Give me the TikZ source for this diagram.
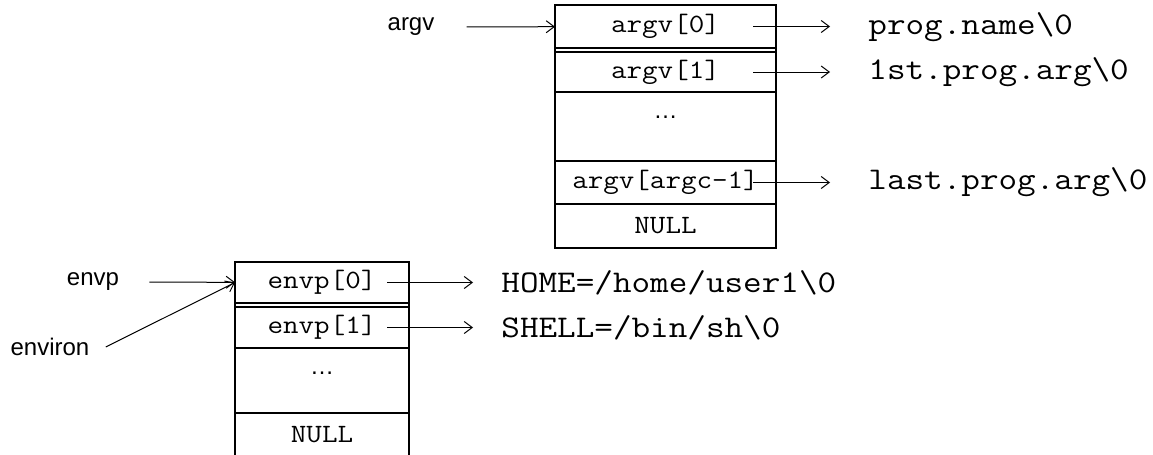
\documentclass[tikz,border=0pt]{standalone}
\usepackage{fontspec}
\setsansfont{Liberation Sans}
\setmonofont[FakeStretch=1.143]{Latin Modern Mono}
\usetikzlibrary{positioning,arrows.meta}

\tikzset{
  cell/.style={draw, line width=0.9pt, inner sep=0pt, outer sep=0pt,
    font=\ttfamily\fontsize{13.2}{15}\selectfont},
  dotcell/.style={cell, inner ysep=0pt, text height=13pt, font=\sffamily\fontsize{12}{14}\selectfont},
  ptr/.style={-{Straight Barb[length=4pt,width=6pt]}, line width=0.5pt},
  lbl/.style={font=\sffamily\fontsize{12}{14}\selectfont, inner sep=0pt},
  str/.style={font=\ttfamily\fontsize{15.8}{18}\selectfont, inner sep=0pt, anchor=west},
}

\begin{document}
\begin{tikzpicture}[x=0.5pt,y=0.5pt]
  \useasboundingbox (0,0) rectangle (1153,-455);

  % argv array
  \begin{scope}[every node/.append style={minimum width=110.5pt}]
    \node[cell, minimum height=21.5pt] (arg0) at (665.5,-26.5) {argv[0]};
    \node[cell, minimum height=20pt, below=2pt of arg0] (arg1) {argv[1]};
    \node[dotcell, text depth=21.5pt, below=0pt of arg1] (argdots) {\ldots};
    \node[cell, minimum height=21.5pt, below=0pt of argdots] (arglast) {argv[argc-1]};
    \node[cell, minimum height=22pt, below=0pt of arglast] (argnull) {NULL};
  \end{scope}
  \draw[line width=0.9pt] (arg0.north west) rectangle (argnull.south east);

  % envp array
  \begin{scope}[every node/.append style={minimum width=87pt}]
    \node[cell, minimum height=20.5pt] (env0) at (322,-282.5) {envp[0]};
    \node[cell, minimum height=20.5pt, below=2pt of env0] (env1) {envp[1]};
    \node[dotcell, text depth=19.5pt, below=0pt of env1] (envdots) {\ldots};
    \node[cell, minimum height=22pt, below=0pt of envdots] (envnull) {NULL};
  \end{scope}
  \draw[line width=0.9pt] (env0.north west) rectangle (envnull.south east);

  % pointer names
  \node[lbl] (argvlbl) at (411,-27) {argv};
  \node[lbl] (envplbl) at (93,-282) {envp};
  \node[lbl] (environlbl) at (50,-347) {environ};

  \draw[ptr, shorten <=16pt] (argvlbl) -- (arg0);
  \draw[ptr, shorten <=15pt] (envplbl) -- (env0);
  \draw[ptr] ([xshift=8pt]environlbl.east) -- (env0.west);

  % strings pointed to
  \node[str] (sname) at (868,-27) {prog.name\textbackslash 0};
  \node[str] (sfirst) at (868,-72) {1st.prog.arg\textbackslash 0};
  \node[str] (slast) at (868,-182.5) {last.prog.arg\textbackslash 0};
  \node[str] (shome) at (501,-282.5) {HOME=/home/user1\textbackslash 0};
  \node[str] (sshell) at (501,-327.5) {SHELL=/bin/sh\textbackslash 0};

  \coordinate (aout) at (753,0);
  \coordinate (eout) at (387,0);
  \draw[ptr, shorten >=19pt] (arg0 -| aout) -- (arg0 -| sname.west);
  \draw[ptr, shorten >=19pt] (arg1 -| aout) -- (arg1 -| sfirst.west);
  \draw[ptr, shorten >=19pt] (arglast -| aout) -- (arglast -| slast.west);
  \draw[ptr, shorten >=14pt] (env0 -| eout) -- (env0 -| shome.west);
  \draw[ptr, shorten >=14pt] (env1 -| eout) -- (env1 -| sshell.west);
\end{tikzpicture}
\end{document}
